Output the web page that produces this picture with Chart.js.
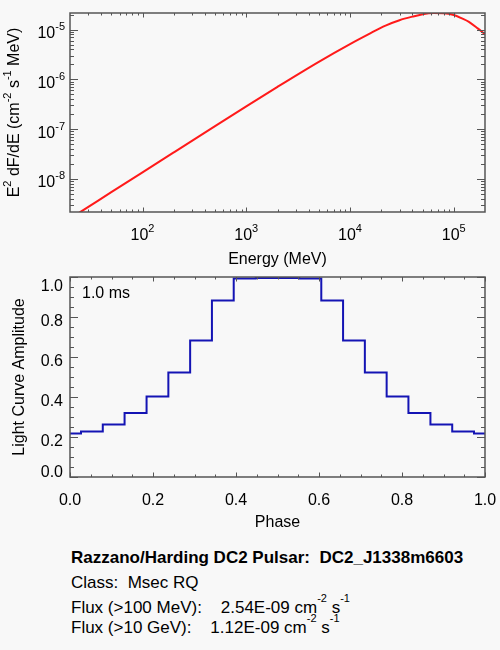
<!doctype html>
<html>
<head>
<meta charset="utf-8">
<title>DC2_J1338m6603</title>
<style>
  html, body { margin: 0; padding: 0; background: #f8f8f8; }
  body { width: 500px; height: 650px; position: relative; overflow: hidden;
         font-family: "Liberation Sans", Arial, Helvetica, sans-serif; color: #000; }
  canvas { position: absolute; left: 0; }
  #spec { top: 0; }
  #lc { top: 270px; }
  .info { position: absolute; left: 71px; font-size: 17px; line-height: 17px; white-space: pre; }
  .info sup { font-size: 11px; line-height: 0; vertical-align: 0; position: relative; top: -11px; }
  .bold { font-weight: bold; }
</style>
<script src="https://cdn.jsdelivr.net/npm/chart.js"></script>
</head>
<body>
<canvas id="spec" width="500" height="270"></canvas>
<canvas id="lc" width="500" height="270"></canvas>

<div class="info bold" style="top:549px">Razzano/Harding DC2 Pulsar:  DC2_J1338m6603</div>
<div class="info" style="top:574px">Class:  Msec RQ</div>
<div class="info" style="top:599px">Flux (&gt;100 MeV):    2.54E-09 cm<sup>-2</sup> s<sup>-1</sup></div>
<div class="info" style="top:619px">Flux (&gt;10 GeV):    1.12E-09 cm<sup>-2</sup> s<sup>-1</sup></div>

<script>
// spectrum
const energyMeV = [20, 25, 50, 100, 200, 500, 1000, 2000, 5000, 10000, 15000, 22000, 30000,
  40000, 48000, 64000, 80000, 100000, 120000, 140000, 170000, 200000];
const e2dfde = [1.6e-9, 2.14e-9, 5.4e-9, 1.35e-8, 3.4e-8, 1.15e-7, 2.88e-7, 7.1e-7, 2.26e-6,
  5.13e-6, 8.04e-6, 1.208e-5, 1.549e-5, 1.828e-5, 1.995e-5, 2.148e-5, 2.138e-5, 1.97e-5,
  1.68e-5, 1.43e-5, 1.06e-5, 8.1e-6];

// light curve bins
const phase = [0, 0.053, 0.105, 0.158, 0.211, 0.263, 0.316, 0.368, 0.421, 0.474, 0.526,
  0.579, 0.632, 0.684, 0.737, 0.789, 0.842, 0.895, 0.947, 1.0];
const amplitude = [0.218, 0.228, 0.262, 0.32, 0.403, 0.522, 0.683, 0.882, 0.993, 0.995,
  0.995, 0.993, 0.882, 0.682, 0.522, 0.403, 0.32, 0.262, 0.228, 0.218];

// ticks
const energyTicks = [1e2, 1e3, 1e4, 1e5];
const energyTickExp = ['2', '3', '4', '5'];
const fluxTicks = [1e-8, 1e-7, 1e-6, 1e-5];
const fluxTickExp = ['-8', '-7', '-6', '-5'];
const phaseTicks = [0, 0.2, 0.4, 0.6, 0.8, 1.0];
const phaseTickLabels = ['0.0', '0.2', '0.4', '0.6', '0.8', '1.0'];
const ampTicks = [0, 0.2, 0.4, 0.6, 0.8, 1.0];
const ampTickLabels = ['0.0', '0.2', '0.4', '0.6', '0.8', '1.0'];

const FONT = '"Liberation Sans", Arial, Helvetica, sans-serif';
const AXIS = '#555';

function logMinors(lo, hi) {
  const out = [];
  for (let p = Math.floor(Math.log10(lo)); p <= Math.ceil(Math.log10(hi)); p++) {
    for (let m = 2; m <= 9; m++) {
      const v = m * Math.pow(10, p);
      if (v > lo && v < hi) out.push(v);
    }
  }
  return out;
}
function linMinors(lo, hi, step) {
  const out = [];
  for (let v = lo; v <= hi + 1e-9; v += step) out.push(+v.toFixed(4));
  return out;
}

// text with superscript pieces: parts = [[text, isSup], ...]
function supText(ctx, parts, x, y, align) {
  const widths = parts.map(([t, s]) => {
    ctx.font = (s ? '11px ' : '16px ') + FONT;
    return ctx.measureText(t).width;
  });
  const total = widths.reduce((a, b) => a + b, 0);
  let cx = align === 'center' ? x - total / 2 : align === 'right' ? x - total : x;
  ctx.textAlign = 'left';
  ctx.textBaseline = 'alphabetic';
  parts.forEach(([t, s], i) => {
    ctx.font = (s ? '11px ' : '16px ') + FONT;
    ctx.fillText(t, cx, s ? y - 8 : y);
    cx += widths[i];
  });
}

// inward ticks on all four sides plus the frame
function drawFrame(chart, o) {
  const { ctx, chartArea: a, scales: { x, y } } = chart;
  ctx.save();
  ctx.strokeStyle = AXIS;
  ctx.lineWidth = 1;
  ctx.beginPath();
  const xt = (vals, len) => vals.forEach(v => {
    const px = Math.round(x.getPixelForValue(v)) + 0.5;
    ctx.moveTo(px, a.bottom); ctx.lineTo(px, a.bottom - len);
    ctx.moveTo(px, a.top); ctx.lineTo(px, a.top + len);
  });
  const yt = (vals, len) => vals.forEach(v => {
    const py = Math.round(y.getPixelForValue(v)) + 0.5;
    ctx.moveTo(a.left, py); ctx.lineTo(a.left + len, py);
    ctx.moveTo(a.right, py); ctx.lineTo(a.right - len, py);
  });
  xt(o.xMajor, 4.5); xt(o.xMinor, 2.5);
  yt(o.yMajor, 8); yt(o.yMinor, 4);
  ctx.stroke();
  ctx.lineWidth = 1.5;
  ctx.strokeRect(a.left, a.top, a.right - a.left, a.bottom - a.top);
  ctx.restore();
}

const specAxes = {
  id: 'specAxes',
  afterDatasetsDraw(chart) {
    const { ctx, chartArea: a, scales: { x, y } } = chart;
    drawFrame(chart, {
      xMajor: energyTicks, xMinor: logMinors(x.min, x.max),
      yMajor: fluxTicks, yMinor: logMinors(y.min, y.max)
    });
    ctx.save();
    ctx.fillStyle = '#000';
    energyTicks.forEach((v, i) => {
      supText(ctx, [['10', false], [energyTickExp[i], true]], x.getPixelForValue(v), a.bottom + 27.5, 'center');
    });
    fluxTicks.forEach((v, i) => {
      supText(ctx, [['10', false], [fluxTickExp[i], true]], 65, y.getPixelForValue(v) + 8.5, 'right');
    });
    supText(ctx, [['Energy (MeV)', false]], (a.left + a.right) / 2, a.bottom + 52, 'center');
    ctx.translate(19, (a.top + a.bottom) / 2);
    ctx.rotate(-Math.PI / 2);
    supText(ctx, [['E', false], ['2', true], [' dF/dE (cm', false], ['-2', true], [' s', false],
      ['-1', true], [' MeV)', false]], 0, 0, 'center');
    ctx.restore();
  }
};

const lcAxes = {
  id: 'lcAxes',
  afterDatasetsDraw(chart) {
    const { ctx, chartArea: a, scales: { x, y } } = chart;
    drawFrame(chart, {
      xMajor: phaseTicks, xMinor: linMinors(0, 1, 0.05),
      yMajor: ampTicks, yMinor: linMinors(0, 1, 0.05)
    });
    ctx.save();
    ctx.fillStyle = '#000';
    phaseTicks.forEach((v, i) => {
      supText(ctx, [[phaseTickLabels[i], false]], x.getPixelForValue(v), a.bottom + 28, 'center');
    });
    ampTicks.forEach((v, i) => {
      const by = Math.min(Math.max(y.getPixelForValue(v) + 9, a.top + 14), a.bottom);
      supText(ctx, [[ampTickLabels[i], false]], 63, by, 'right');
    });
    supText(ctx, [['Phase', false]], (a.left + a.right) / 2, a.bottom + 50, 'center');
    supText(ctx, [['1.0 ms', false]], a.left + 12, a.top + 21, 'left');
    ctx.translate(24, (a.top + a.bottom) / 2);
    ctx.rotate(-Math.PI / 2);
    supText(ctx, [['Light Curve Amplitude', false]], 0, 0, 'center');
    ctx.restore();
  }
};

const plainAxis = {
  ticks: { display: false },
  grid: { display: false },
  border: { display: false }
};

new Chart(document.getElementById('spec'), {
  type: 'line',
  data: {
    datasets: [{
      data: energyMeV.map((e, i) => ({ x: e, y: e2dfde[i] })),
      borderColor: '#ff1a1a',
      borderWidth: 2,
      pointRadius: 0,
      cubicInterpolationMode: 'monotone',
      fill: false
    }]
  },
  options: {
    responsive: false,
    animation: false,
    layout: { padding: { top: 13, right: 15, left: 0, bottom: 0 } },
    plugins: { legend: { display: false }, tooltip: { enabled: false } },
    scales: {
      x: { ...plainAxis, type: 'logarithmic', min: 20, max: 2e5, afterFit: s => { s.height = 58; } },
      y: { ...plainAxis, type: 'logarithmic', min: 2.16e-9, max: 2.16e-5, afterFit: s => { s.width = 70; } }
    }
  },
  plugins: [specAxes]
});

new Chart(document.getElementById('lc'), {
  type: 'line',
  data: {
    datasets: [{
      data: phase.map((p, i) => ({ x: p, y: amplitude[i] })),
      borderColor: '#1414b4',
      borderWidth: 2,
      pointRadius: 0,
      stepped: 'middle',
      fill: false
    }]
  },
  options: {
    responsive: false,
    animation: false,
    layout: { padding: { top: 7, right: 15, left: 0, bottom: 0 } },
    plugins: { legend: { display: false }, tooltip: { enabled: false } },
    scales: {
      x: { ...plainAxis, type: 'linear', min: 0, max: 1, afterFit: s => { s.height = 63; } },
      y: { ...plainAxis, type: 'linear', min: 0, max: 1, afterFit: s => { s.width = 70; } }
    }
  },
  plugins: [lcAxes]
});
</script>
</body>
</html>
